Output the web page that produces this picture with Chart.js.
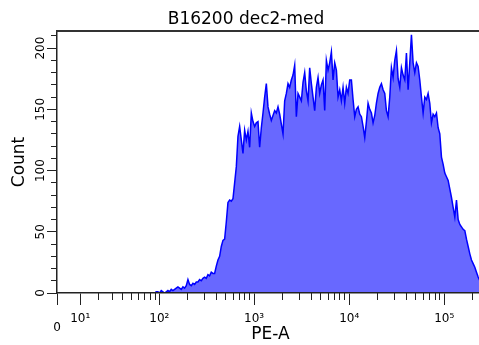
<!DOCTYPE html>
<html><head><meta charset="utf-8">
<script src="https://cdn.jsdelivr.net/npm/chart.js@4"></script>
<style>
html,body{margin:0;padding:0;background:#fff;overflow:hidden}
#wrap{position:relative;width:484px;height:345px}
</style>
</head><body>
<div id="wrap"><canvas id="c"></canvas></div>
<script>
const TITLE = 'B16200 dec2-med';
const X_LABEL = 'PE-A';
const Y_LABEL = 'Count';

// histogram counts, 256 channels evenly spaced on the display (biexponential) axis
const COUNTS = [
  0,0,0,0,0,0,0,0,0,0,0,0,0,0,0,0,0,0,0,0,0,0,0,0,0,0,0,0,0,0,0,0,
  0,0,0,0,0,0,0,0,0,0,0,0,0,0,0,0,0,0,0,0,0,0,0,0,
  0,0,0,1,1,0,2,1,0,1,2,1,3,2,3,4,5,4,3,5,4,6,11,7,6,8,7,9,9,11,10,12,
  13,12,15,14,17,16,16,22,27,30,38,43,44,58,74,76,75,77,90,103,128,136,125,114,133,125,132,119,
  147,140,136,139,140,119,135,147,160,171,152,146,141,145,149,147,152,146,138,130,157,163,171,168,
  174,178,186,144,163,160,157,172,180,165,157,184,171,160,149,168,176,163,170,174,149,190,182,188,
  197,174,188,182,160,166,157,168,155,168,163,174,174,158,144,150,152,146,144,136,127,140,155,150,
  147,139,145,155,163,168,171,166,163,149,144,160,184,176,190,198,175,168,184,178,174,196,166,188,
  211,188,180,188,185,174,160,147,160,158,163,155,139,146,144,147,135,130,111,105,98,95,92,85,
  78,70,62,76,60,56,54,52,51,44,38,32,27,24,21,17,13,10,7,5
];

const X_TICK_VALUES = [0, 10, 100, 1000, 10000, 100000];
const X_TICK_LABELS = [['', '0'], '10¹', '10²', '10³', '10⁴', '10⁵'];
const X_MINOR_TICK_VALUES = [
  20,30,40,50,60,70,80,90,
  200,300,400,500,600,700,800,900,
  2000,3000,4000,5000,6000,7000,8000,9000,
  20000,30000,40000,50000,60000,70000,80000,90000,
  200000
];
const X_MAX_VALUE = 262144;

const Y_TICK_VALUES = [0, 50, 100, 150, 200];
const Y_TICK_LABELS = ['0', '50', '100', '150', '200'];
const Y_MINOR_TICK_VALUES = [10,20,30,40,60,70,80,90,110,120,130,140,160,170,180,190,210];
const Y_MAX = 214;

const BIEX_W = 8.43;
function biex(v) { return Math.log10(BIEX_W) + Math.asinh(v / (2 * BIEX_W)) / Math.LN10; }
const T_MIN = biex(0), T_MAX = biex(X_MAX_VALUE);
const binW = (T_MAX - T_MIN) / COUNTS.length;
const points = COUNTS.map((c, i) => ({ x: T_MIN + (i + 0.5) * binW, y: c }));

const FONT = 'DejaVu Sans';
const AX = '#222';

new Chart(document.getElementById('c'), {
  type: 'line',
  data: {
    datasets: [{
      data: points,
      xAxisID: 'x', yAxisID: 'y',
      borderColor: '#0000ff',
      borderWidth: 1.5,
      backgroundColor: '#6868ff',
      fill: 'origin',
      pointRadius: 0,
      tension: 0
    }]
  },
  options: {
    responsive: true,
    maintainAspectRatio: false,
    animation: false,
    layout: { padding: { left: 8, top: 0, right: 0, bottom: 0 } },
    plugins: {
      legend: { display: false },
      tooltip: { enabled: false },
      title: {
        display: true, text: TITLE, color: '#000',
        font: { family: FONT, size: 17, weight: 'normal' },
        padding: { top: 9.8, bottom: 0.8 }
      }
    },
    scales: {
      x: {
        type: 'linear', axis: 'x', position: 'bottom', min: T_MIN, max: T_MAX,
        afterBuildTicks: s => { s.ticks = X_TICK_VALUES.map(v => ({ value: biex(v) })); },
        afterFit: s => { s.height = 52; },
        ticks: {
          autoSkip: false, minRotation: 0, maxRotation: 0, padding: 9.8, color: '#000',
          font: { family: FONT, size: 12, lineHeight: 0.7 },
          callback: (v, i) => X_TICK_LABELS[i]
        },
        grid: { drawOnChartArea: false, drawTicks: true, tickLength: 12, tickColor: AX, tickWidth: 1 },
        border: { display: true, color: AX, width: 1.5, z: 1 },
        title: { display: true, text: X_LABEL, color: '#000', font: { family: FONT, size: 17 }, padding: { top: 0, bottom: 0 } }
      },
      y: {
        type: 'linear', axis: 'y', position: 'left', min: 0, max: Y_MAX,
        afterBuildTicks: s => { s.ticks = Y_TICK_VALUES.map(v => ({ value: v })); },
        afterFit: s => { s.width = 49; },
        ticks: {
          autoSkip: false, minRotation: 90, maxRotation: 90, crossAlign: 'center', padding: -5.4, color: '#000',
          font: { family: FONT, size: 12 },
          callback: (v, i) => Y_TICK_LABELS[i]
        },
        grid: { drawOnChartArea: false, drawTicks: true, tickLength: 10, tickColor: AX, tickWidth: 1 },
        border: { display: true, color: AX, width: 1.5, z: 1 },
        title: { display: true, text: Y_LABEL, color: '#000', font: { family: FONT, size: 17 }, padding: { top: 1.8, bottom: 0 } }
      },
      xMinor: {
        type: 'linear', axis: 'x', position: { y: 0 }, min: T_MIN, max: T_MAX,
        afterBuildTicks: s => { s.ticks = X_MINOR_TICK_VALUES.map(v => ({ value: biex(v) })).filter(t => t.value <= T_MAX); },
        ticks: { display: false, autoSkip: false },
        grid: { drawOnChartArea: false, drawTicks: true, tickLength: 7, tickColor: AX, tickWidth: 1 },
        border: { display: false }
      },
      yMinor: {
        type: 'linear', axis: 'y', position: { x: T_MIN }, min: 0, max: Y_MAX,
        afterBuildTicks: s => { s.ticks = Y_MINOR_TICK_VALUES.map(v => ({ value: v })); },
        ticks: { display: false, autoSkip: false },
        grid: { drawOnChartArea: false, drawTicks: true, tickLength: 6, tickColor: AX, tickWidth: 1 },
        border: { display: false }
      },
      xTop: {
        type: 'linear', axis: 'x', position: { y: Y_MAX }, min: T_MIN, max: T_MAX,
        ticks: { display: false },
        grid: { display: false, drawTicks: false },
        border: { display: true, color: '#333', width: 2, z: 1 }
      }
    }
  }
});
</script>
</body></html>
